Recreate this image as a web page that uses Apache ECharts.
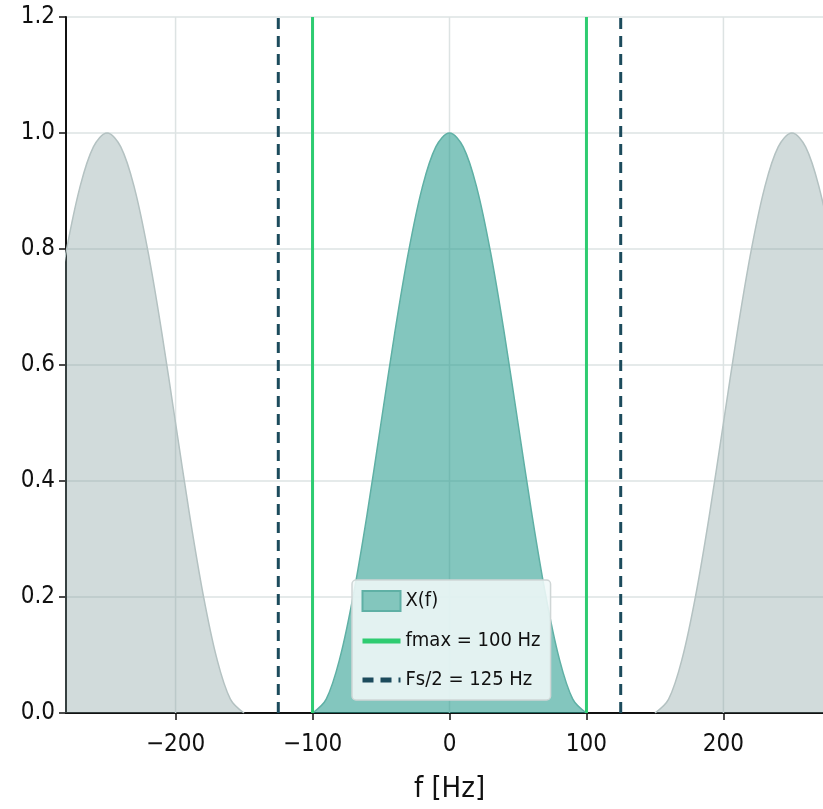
<!DOCTYPE html>
<html>
<head>
<meta charset="utf-8">
<script src="https://cdn.jsdelivr.net/npm/echarts@6/dist/echarts.min.js"></script>
<style>html,body{margin:0;padding:0;background:#fff}#c{width:823px;height:809px}</style>
</head>
<body>
<div id="c"></div>
<script>
// Central spectrum X(f)
const centerFreq = [-100,-90,-80,-70,-60,-50,-40,-30,-20,-10,0,10,20,30,40,50,60,70,80,90,100];
const centerVals = [0,0.024,0.095,0.206,0.345,0.5,0.655,0.794,0.905,0.976,1,0.976,0.905,0.794,0.655,0.5,0.345,0.206,0.095,0.024,0];
// Left image (centred at -250 Hz)
const leftFreq = [-290,-280,-270,-260,-250,-240,-230,-220,-210,-200,-190,-180,-170,-160,-150];
const leftVals = [0.655,0.794,0.905,0.976,1,0.976,0.905,0.794,0.655,0.5,0.345,0.206,0.095,0.024,0];
// Right image (centred at +250 Hz)
const rightFreq = [150,160,170,180,190,200,210,220,230,240,250,260,270,280,290];
const rightVals = [0,0.024,0.095,0.206,0.345,0.5,0.655,0.794,0.905,0.976,1,0.976,0.905,0.794,0.655];
// Reference lines
const fmax = 100;
const fsHalf = 125;
const xTicks = [-200,-100,0,100,200];

const FONT = "'DejaVu Sans Condensed','DejaVu Sans',sans-serif";
const zip = (a,b)=>a.map((x,i)=>[x,b[i]]);
const vline = (x)=>[[x,0],[x,1.2]];

const chart = echarts.init(document.getElementById('c'), null, {renderer:'canvas'});
const grayArea = (name,data)=>({
  type:'line', name, data, smooth:0.35, symbol:'none', z:1,
  lineStyle:{color:'#b4c2c2',width:1.5}, areaStyle:{color:'rgba(124,152,152,0.35)',opacity:1,origin:0},
  silent:true
});
const gridSeries = xTicks.map((x,i)=>({
  type:'line', name:'_g'+i, data:vline(x), symbol:'none', silent:true, z:0,
  lineStyle:{color:'#dde3e3',width:1.5}
}));
chart.setOption({
  animation:false,
  grid:{left:66,top:17,width:767,bottom:96,containLabel:false,outerBoundsMode:'none'},
  xAxis:{
    type:'value', min:-280, max:280,
    name:'f [Hz]', nameLocation:'middle', nameGap:62,
    nameTextStyle:{fontFamily:FONT,fontSize:29,color:'#111'},
    axisLine:{show:true,onZero:false,lineStyle:{color:'#111',width:2}},
    axisTick:{show:true,customValues:xTicks,length:7,lineStyle:{color:'#111',width:1.5}},
    axisLabel:{customValues:xTicks,margin:20,fontFamily:FONT,fontSize:24,color:'#111',
      formatter:v=>v<0?'\u2212'+Math.abs(v):String(v)},
    splitLine:{show:false}
  },
  yAxis:{
    type:'value', min:0, max:1.2, interval:0.2,
    axisLine:{show:true,onZero:false,lineStyle:{color:'#111',width:2}},
    axisTick:{show:true,length:7,lineStyle:{color:'#111',width:1.5}},
    axisLabel:{margin:11,fontFamily:FONT,fontSize:24,color:'#111',formatter:v=>v.toFixed(1)},
    splitLine:{show:true,lineStyle:{color:'#dde3e3',width:1.5}}
  },
  legend:{
    left:352, top:580, orient:'vertical', itemGap:19, itemWidth:38, itemHeight:20,
    padding:[10,10,10,8],
    backgroundColor:'rgba(240,248,248,0.88)', borderColor:'#cfd6d6', borderWidth:1.5, borderRadius:4,
    textStyle:{fontFamily:FONT,fontSize:20,color:'#111'},
    data:[
      {name:'X(f)',icon:'rect',itemStyle:{color:'#83c6bd',borderColor:'#5fb0a5',borderWidth:2}},
      {name:'fmax = 100 Hz',itemStyle:{opacity:0},lineStyle:{width:5}},
      {name:'Fs/2 = 125 Hz',itemStyle:{opacity:0},lineStyle:{width:5}}
    ]
  },
  series:[
    ...gridSeries,
    grayArea('_left', zip(leftFreq,leftVals)),
    grayArea('_right', zip(rightFreq,rightVals)),
    {type:'line', name:'X(f)', data:zip(centerFreq,centerVals), smooth:0.35, symbol:'none', z:2,
      lineStyle:{color:'#5fb0a5',width:1.5}, areaStyle:{color:'rgba(42,157,143,0.58)',opacity:1,origin:0},
      itemStyle:{color:'#83c6bd'}},
    {type:'line', name:'fmax = 100 Hz', data:vline(-fmax), symbol:'none', z:3,
      lineStyle:{color:'#2ecc71',width:3}, itemStyle:{color:'#2ecc71'}},
    {type:'line', name:'fmax = 100 Hz', data:vline(fmax), symbol:'none', z:3,
      lineStyle:{color:'#2ecc71',width:3}, itemStyle:{color:'#2ecc71'}},
    {type:'line', name:'Fs/2 = 125 Hz', data:vline(-fsHalf), symbol:'none', z:3,
      lineStyle:{color:'#1c4b5c',width:3,type:[11,7]}, itemStyle:{color:'#1c4b5c'}},
    {type:'line', name:'Fs/2 = 125 Hz', data:vline(fsHalf), symbol:'none', z:3,
      lineStyle:{color:'#1c4b5c',width:3,type:[11,7]}, itemStyle:{color:'#1c4b5c'}}
  ]
});
</script>
</body>
</html>
